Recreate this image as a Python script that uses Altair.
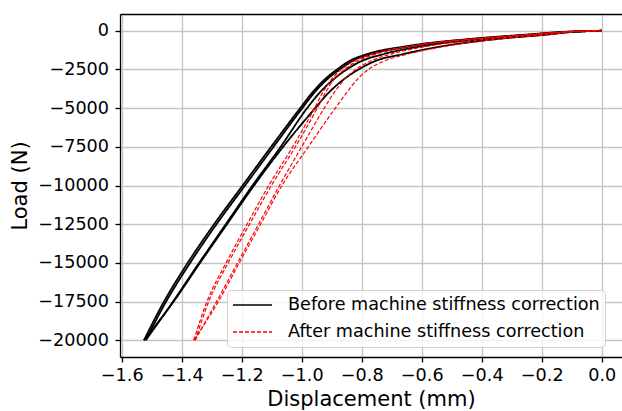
import altair as alt
import pandas as pd

BEFORE = "Before machine stiffness correction"
AFTER = "After machine stiffness correction"

# Load levels (N) shared by every branch
LOAD = [0, -100, -250, -500, -1000, -1500, -2000, -2500, -3000, -4000,
        -5000, -7500, -10000, -12500, -15000, -17500, -20000]

# Displacement (mm) of each branch, before correction
BLACK_R = [0, -0.11, -0.18, -0.33, -0.53, -0.66, -0.76, -0.81, -0.85, -0.91,
           -0.955, -1.062, -1.159, -1.249, -1.339, -1.427, -1.526]
BLACK_L1 = [0, -0.15, -0.25, -0.42, -0.65, -0.78, -0.845, -0.882, -0.915, -0.965,
            -1.005, -1.102, -1.197, -1.292, -1.380, -1.459, -1.526]
BLACK_M = [0, -0.12, -0.21, -0.37, -0.60, -0.725, -0.805, -0.85, -0.885, -0.94,
           -0.982, -1.070, -1.164, -1.253, -1.342, -1.429, -1.520]
BLACK_L2 = [0, -0.14, -0.235, -0.405, -0.635, -0.765, -0.835, -0.873, -0.907, -0.958,
            -0.998, -1.094, -1.189, -1.284, -1.372, -1.452, -1.520]

# Displacement (mm) of each branch, after correction
RED_D = [0, -0.11, -0.178, -0.325, -0.52, -0.645, -0.73, -0.778, -0.808, -0.85,
         -0.888, -0.978, -1.066, -1.137, -1.208, -1.278, -1.360]
RED_A = [0, -0.15, -0.245, -0.415, -0.642, -0.765, -0.83, -0.868, -0.895, -0.93,
         -0.957, -1.030, -1.110, -1.182, -1.252, -1.316, -1.360]
RED_C = [0, -0.12, -0.205, -0.365, -0.58, -0.70, -0.775, -0.82, -0.85, -0.892,
         -0.925, -1.000, -1.074, -1.144, -1.214, -1.284, -1.355]
RED_B = [0, -0.14, -0.23, -0.40, -0.628, -0.75, -0.818, -0.857, -0.886, -0.921,
         -0.948, -1.021, -1.101, -1.174, -1.245, -1.310, -1.355]

X_TICKS = [-1.6, -1.4, -1.2, -1.0, -0.8, -0.6, -0.4, -0.2, 0.0]
Y_TICKS = [0, -2500, -5000, -7500, -10000, -12500, -15000, -17500, -20000]


def branches(pairs, label):
    rows = []
    for name, xs in pairs:
        for x, y in zip(xs, LOAD):
            rows.append({"x": x, "y": y, "branch": name, "series": label})
    return rows


black = pd.DataFrame(branches([("bR", BLACK_R), ("bL1", BLACK_L1),
                               ("bM", BLACK_M), ("bL2", BLACK_L2)], BEFORE))
red = pd.DataFrame(branches([("rD", RED_D), ("rA", RED_A),
                             ("rC", RED_C), ("rB", RED_B)], AFTER))

FONT = "DejaVu Sans"
xscale = alt.Scale(domain=[-1.6057, 0.0676], nice=False, zero=False)
yscale = alt.Scale(domain=[-21080, 1080], nice=False, zero=False)

legend = alt.Legend(
    title=None, orient="none", legendX=107, legendY=276,
    symbolType="stroke", symbolSize=1521, symbolStrokeWidth=1.5,
    labelFont=FONT, labelFontSize=17.6, labelColor="#000000", labelOffset=15,
    labelLimit=500,
    clipHeight=20, rowPadding=7, padding=5,
    fillColor="rgba(255,255,255,0.8)", strokeColor="#d0d0d0", cornerRadius=4,
)
color = alt.Color("series:N", scale=alt.Scale(domain=[BEFORE, AFTER], range=["#000000", "#ff0000"]),
                  legend=legend)
dash = alt.StrokeDash("series:N", scale=alt.Scale(domain=[BEFORE, AFTER], range=[[1, 0], [4, 2]]),
                      legend=legend)
yenc = alt.Y("y:Q", scale=yscale,
             axis=alt.Axis(values=Y_TICKS, format="d", title="Load (N)", labelPadding=6.5,
                           titleX=-94, titleY=171.5, titleAngle=270, titleAlign="center",
                           titleBaseline="alphabetic", labelOverlap=False))

bottom = alt.Chart(black).mark_line(strokeWidth=1.8, interpolate="monotone").encode(
    x=alt.X("x:Q", scale=xscale,
            axis=alt.Axis(values=X_TICKS, format=".1f", title="Displacement (mm)", labelPadding=4,
                          labelFlush=False, labelOverlap=False, titleY=48,
                          titleBaseline="alphabetic")),
    y=yenc,
    color=color,
    strokeDash=dash,
    detail="branch:N",
    order="x:Q",
)

top = alt.Chart(red).mark_line(strokeWidth=1.2, interpolate="monotone").encode(
    x=alt.X("x:Q", scale=xscale,
            axis=alt.Axis(orient="top", labels=False, ticks=False, grid=False, domain=True, title="")),
    y=yenc,
    color=color,
    strokeDash=dash,
    detail="branch:N",
    order="x:Q",
)

chart = alt.layer(bottom, top).resolve_axis(x="independent").properties(
    width=502, height=343,
    autosize=alt.AutoSizeParams(type="none"),
    padding={"left": 120, "top": 14, "right": 0, "bottom": 54},
    background="white",
).configure_view(stroke=None).configure_axis(
    domainColor="#000000", domainWidth=1.3,
    tickColor="#000000", tickWidth=1.3, tickSize=5,
    labelFont=FONT, labelFontSize=17.6, labelColor="#000000",
    titleFont=FONT, titleFontSize=21, titleFontWeight="normal", titleColor="#000000",
    gridColor="#c4c4c4", gridWidth=1.3,
)

chart.save("out.html", embed_options={"renderer": "svg", "actions": False})
